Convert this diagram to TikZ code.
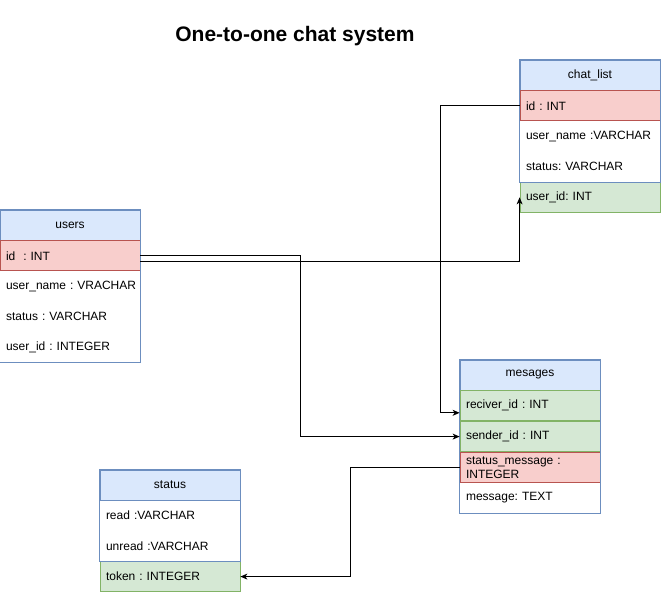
\documentclass[tikz,border=0pt]{standalone}
\usepackage{fontspec}
\setmainfont{Liberation Sans}
\usetikzlibrary{positioning, arrows.meta}
\definecolor{hdrfill}{HTML}{DAE8FC}
\definecolor{hdrline}{HTML}{6C8EBF}
\definecolor{keyfill}{HTML}{F8CECC}
\definecolor{keyline}{HTML}{B85450}
\definecolor{fkfill}{HTML}{D5E8D4}
\definecolor{fkline}{HTML}{82B366}

\begin{document}
\begin{tikzpicture}[
                x=1pt, y=-1pt,
                node distance=0pt,
                every node/.style={font=\fontsize{12}{14}\selectfont\frenchspacing},
                header/.style={rectangle, draw=hdrline, line width=0.8pt, fill=hdrfill, minimum width=140pt, minimum height=30pt, inner sep=0pt},
                field/.style={rectangle, minimum width=140pt, minimum height=30pt, text width=136pt, inner xsep=2pt, inner ysep=0pt, align=left, execute at begin node={\leftskip=4pt\relax}},
                pkey/.style={field, draw=keyline, line width=0.8pt, fill=keyfill},
                fkey/.style={field, draw=fkline, line width=0.8pt, fill=fkfill},
                frame/.style={draw=hdrline, line width=0.8pt},
                link/.style={draw, line width=1pt, -{Stealth[length=7pt, width=6pt, inset=2pt]}}
            ]
                \useasboundingbox (0,0) rectangle (672,602);

                % Title
                \node[font=\bfseries\fontsize{21}{24}\selectfont] (title) at (295,36) {One-to-one chat system};

                % users
                \node[header] (users) at (70,225) {users};
                \node[pkey, below=of users] (users-id) {id\ \ : INT};
                \node[field, below=of users-id] (users-name) {user\_name : VRACHAR};
                \node[field, below=of users-name] (users-status) {status : VARCHAR};
                \node[field, below=of users-status] (users-uid) {user\_id : INTEGER};
                \draw[frame] (users.north west) rectangle (users-uid.south east);

                % chat_list
                \node[header] (chat) at (590,75) {chat\_list};
                \node[pkey, below=of chat] (chat-id) {id : INT};
                \node[field, below=of chat-id] (chat-name) {user\_name :VARCHAR};
                \node[field, below=of chat-name] (chat-status) {status: VARCHAR};
                \node[fkey, below=of chat-status] (chat-uid) {user\_id: INT};
                \draw[frame] (chat.north west) rectangle (chat-status.south east);

                % mesages
                \node[header] (msg) at (530,375) {mesages};
                \node[fkey, below=of msg] (msg-recv) {reciver\_id : INT};
                \node[fkey, below=of msg-recv] (msg-sender) {sender\_id : INT};
                \node[pkey, below=of msg-sender] (msg-status) {status\_message :\\INTEGER};
                \node[field, below=of msg-status] (msg-text) {message: TEXT};
                \draw[frame] (msg.north west) rectangle (msg-text.south east);

                % status
                \node[header] (st) at (170,485) {status};
                \node[field, below=of st] (st-read) {read :VARCHAR};
                \node[field, below=of st-read] (st-unread) {unread :VARCHAR};
                \node[fkey, below=of st-unread] (st-token) {token : INTEGER};
                \draw[frame] (st.north west) rectangle (st-unread.south east);

                % Relations
                \path[link] (users-id.east) -- ++(160,0) |- (msg-sender.west);
                \path[link] ([yshift=-6pt]users-id.east) -| (chat-uid.west);
                \path[link] (chat-id.west) -- ++(-79,0) |- ([yshift=-7pt]msg-recv.west);
                \path[link] (msg-status.west) -- ++(-109,0) |- (st-token.east);
            \end{tikzpicture}
\end{document}
